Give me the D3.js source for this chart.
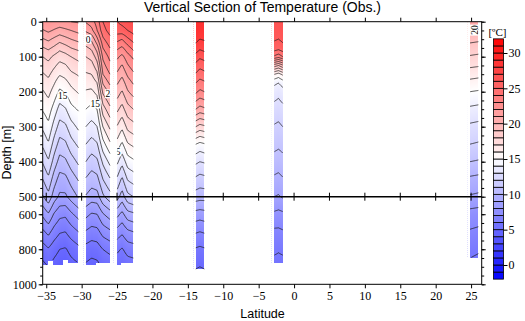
<!DOCTYPE html>
<html>
<head>
<meta charset="utf-8">
<script src="https://cdn.jsdelivr.net/npm/d3@7"></script>
<style>
body { margin: 0; background: #fff; }
svg { display: block; }
.serif { font-family: "Liberation Serif", "Times New Roman", Times, serif; }
</style>
</head>
<body>
<div id="chart"></div>
<script>
'use strict';

// depth levels [m] used by every station profile
const depths = [0, 25, 50, 75, 100, 125, 150, 175, 200, 250, 300, 350, 400, 450, 500, 600, 700, 800, 900];

// band 1, 35.5S - 30.5S
const lats1 = [-35.5, -34.7, -33.9, -33.1, -32.3, -31.5, -30.45];
const temps1 = [
    [21.8, 20.9, 19.9, 18.9, 18.0, 17.4, 16.9, 16.4, 15.9, 15.1, 14.2, 13.2, 12.1, 11.0, 9.9, 8.2, 6.8, 5.5, 4.7],
    [22.0, 21.2, 20.2, 19.2, 18.3, 17.7, 17.2, 16.7, 16.3, 15.5, 14.8, 13.9, 12.9, 11.8, 10.7, 8.9, 7.3, 5.9, 5.0],
    [21.8, 20.9, 19.8, 18.8, 17.8, 17.2, 16.6, 16.1, 15.6, 14.6, 13.6, 12.6, 11.6, 10.5, 9.5, 7.9, 6.6, 5.4, 4.6],
    [21.7, 20.6, 19.4, 18.3, 17.4, 16.7, 16.1, 15.4, 14.8, 13.6, 12.6, 11.6, 10.6, 9.6, 8.8, 7.3, 6.1, 5.0, 4.3],
    [21.8, 20.8, 19.7, 18.6, 17.6, 16.9, 16.3, 15.7, 15.1, 13.9, 12.8, 11.8, 10.8, 9.7, 8.8, 7.2, 6.0, 4.9, 4.3],
    [22.0, 21.0, 20.0, 19.0, 18.0, 17.4, 16.8, 16.2, 15.7, 14.7, 13.6, 12.6, 11.5, 10.4, 9.4, 7.8, 6.5, 5.3, 4.6],
    [22.1, 21.3, 20.3, 19.3, 18.3, 17.7, 17.1, 16.6, 16.1, 15.1, 14.2, 13.2, 12.2, 11.1, 10.1, 8.4, 7.0, 5.7, 4.8]
];
const bottom1 = [890, 867, 890, 890, 861, 877, 877];

// band 2, 29.4S - 26S (front)
const lats2 = [-29.4, -28.6, -27.8, -27.0, -26.0];
const temps2 = [
    [22.1, 21.2, 19.8, 18.8, 18.0, 17.4, 16.9, 16.4, 15.9, 15.0, 14.0, 13.0, 12.0, 10.9, 9.9, 8.3, 6.9, 5.6, 4.8],
    [22.5, 21.7, 20.2, 19.2, 18.3, 17.6, 17.0, 16.4, 15.8, 14.7, 13.6, 12.6, 11.5, 10.5, 9.5, 7.9, 6.6, 5.4, 4.6],
    [23.5, 23.0, 21.8, 20.5, 19.5, 18.6, 17.8, 17.0, 16.3, 15.0, 14.0, 12.9, 11.8, 10.7, 9.6, 8.0, 6.7, 5.5, 4.7],
    [25.0, 24.6, 23.8, 23.0, 22.2, 21.6, 21.0, 20.1, 19.2, 17.5, 16.0, 14.6, 13.2, 12.0, 10.8, 8.9, 7.4, 6.0, 5.1],
    [25.8, 25.4, 24.7, 24.0, 23.3, 22.7, 22.0, 21.2, 20.3, 18.7, 17.2, 15.8, 14.3, 12.9, 11.6, 9.5, 7.8, 6.3, 5.3]
];
const bottom2 = [890, 890, 880, 880, 880];

// band 3, 25S - 22.7S
const lats3 = [-24.96, -24.3, -23.5, -22.7];
const temps3 = [
    [26.0, 25.5, 24.3, 23.2, 22.2, 21.5, 20.8, 20.1, 19.5, 18.2, 16.9, 15.6, 14.2, 12.8, 11.4, 9.3, 7.6, 6.2, 5.3],
    [26.3, 25.6, 24.0, 22.8, 21.7, 20.9, 20.2, 19.5, 18.9, 17.6, 16.2, 14.8, 13.3, 11.8, 10.5, 8.7, 7.2, 5.9, 5.1],
    [26.6, 26.0, 24.8, 23.6, 22.6, 21.9, 21.2, 20.5, 19.9, 18.6, 17.3, 15.9, 14.5, 13.1, 11.7, 9.6, 7.8, 6.4, 5.4],
    [26.9, 26.4, 25.4, 24.3, 23.2, 22.5, 21.8, 21.1, 20.4, 19.0, 17.6, 16.2, 14.8, 13.4, 12.0, 9.8, 8.0, 6.5, 5.5]
];
const bottom3 = [890, 877, 877, 877];

// band 4, around 13S
const lats4 = [-13.88, -13.3, -12.67];
const temps4 = [
    [28.8, 28.7, 28.3, 27.6, 26.6, 25.7, 24.9, 24.0, 23.2, 21.0, 18.0, 15.0, 13.2, 11.8, 10.5, 8.6, 7.1, 5.9, 5.1],
    [28.7, 28.5, 28.0, 27.2, 26.2, 25.3, 24.5, 23.6, 22.8, 20.6, 17.6, 14.7, 13.0, 11.6, 10.4, 8.5, 7.0, 5.8, 5.0],
    [28.6, 28.5, 28.1, 27.4, 26.4, 25.5, 24.7, 23.8, 23.0, 20.8, 17.8, 14.9, 13.1, 11.7, 10.4, 8.6, 7.1, 5.9, 5.1]
];
const bottom4 = [913, 913, 913];

// band 5, around 2S
const lats5 = [-2.78, -2.2, -1.6];
const temps5 = [
    [26.4, 26.3, 26.1, 25.6, 23.8, 19.5, 16.0, 14.2, 13.5, 12.6, 11.9, 11.3, 10.6, 9.8, 9.0, 7.8, 6.8, 6.2, 5.6],
    [26.4, 26.3, 26.0, 25.4, 23.4, 19.0, 15.6, 14.0, 13.3, 12.5, 11.8, 11.2, 10.5, 9.7, 8.9, 7.7, 6.8, 6.1, 5.6],
    [26.5, 26.4, 26.2, 25.7, 24.0, 19.8, 16.2, 14.4, 13.6, 12.7, 12.0, 11.3, 10.7, 9.9, 9.1, 7.8, 6.9, 6.2, 5.6]
];
const bottom5 = [880, 880, 880];

// band 6, around 25N
const lats6 = [24.86, 26.03];
const temps6 = [
    [21.0, 20.0, 19.3, 18.6, 17.9, 17.2, 16.4, 15.7, 15.0, 13.8, 12.8, 12.0, 11.0, 9.8, 8.9, 7.6, 6.9, 6.2, 5.8],
    [20.8, 19.9, 19.2, 18.5, 17.8, 17.1, 16.3, 15.6, 14.9, 13.7, 12.7, 11.9, 10.9, 9.7, 8.8, 7.5, 6.8, 6.1, 5.7]
];
const bottom6 = [852, 852];

// single stations drawn as faint dotted columns
const dotLats = [-29.8, -25.56, -14.27, -3.25, 24.44];

// contour labels
const labelLats = [-32.66, -29.41, -28.07, -25.95, -25.17, 25.44];
const labelDepths = [212, 50, 235, 206, 372, 24];
const labelTexts = ['15', '20', '15', '20', '15', '20'];

// colour bar and axis ticks
const cbLevels = d3.range(-2, 32);
const cbTicks = [0, 5, 10, 15, 20, 25, 30];
const latTicks = d3.range(-35, 26, 5);
const depthTicks = [0, 100, 200, 300, 400, 500, 600, 800, 1000];
const depthMinor = d3.range(0, 500, 25).concat(d3.range(500, 1001, 50));

const bands = [
    {lats: lats1, temps: temps1, bottom: bottom1},
    {lats: lats2, temps: temps2, bottom: bottom2},
    {lats: lats3, temps: temps3, bottom: bottom3},
    {lats: lats4, temps: temps4, bottom: bottom4},
    {lats: lats5, temps: temps5, bottom: bottom5},
    {lats: lats6, temps: temps6, bottom: bottom6}
];

const W = 525, H = 321;
const x = d3.scaleLinear().domain([-35.5, 26.5]).range([42.7, 481.7]);
const y = d3.scaleLinear().domain([0, 500, 1000]).range([21.7, 196.7, 284.3]);
const color = d3.scaleLinear().domain([-2, 15, 32]).range(['#0000ff', '#ffffff', '#ff0000']).clamp(true);
const sans = '"Liberation Sans", Arial, sans-serif';
const fmt = d3.format('d');

let bottomAt = function (band, lat) {
    let L = band.lats;
    let n = band.bottom.length;
    let k = Math.floor((lat - L[0]) / (L[L.length - 1] - L[0]) * n);
    k = Math.max(0, Math.min(n - 1, k));
    return band.bottom[k];
}

// bilinear interpolation between station profiles
let tempAt = function (band, lat, dep) {
    let L = band.lats;
    if (lat < L[0] || lat > L[L.length - 1]) return NaN;
    if (dep > bottomAt(band, lat)) return NaN;
    let i = Math.max(0, Math.min(L.length - 2, d3.bisectRight(L, lat) - 1));
    let u = (lat - L[i]) / (L[i + 1] - L[i]);
    let j = Math.max(0, Math.min(depths.length - 2, d3.bisectRight(depths, dep) - 1));
    let v = (dep - depths[j]) / (depths[j + 1] - depths[j]);
    let a = band.temps[i], b = band.temps[i + 1];
    let t0 = a[j] * (1 - v) + a[j + 1] * v;
    let t1 = b[j] * (1 - v) + b[j + 1] * v;
    return t0 * (1 - u) + t1 * u;
}

const svg = d3.select('#chart').append('svg').attr('width', W).attr('height', H);

// colour fill on a canvas, then put in the svg as an image
const canvas = document.createElement('canvas');
canvas.width = W;
canvas.height = H;
const ctx = canvas.getContext('2d');
const img = ctx.createImageData(W, H);
let setPixel = function (px, py, t, fade) {
    let c = d3.rgb(color(t));
    let k = (py * W + px) * 4;
    img.data[k] = c.r * (1 - fade) + 255 * fade;
    img.data[k + 1] = c.g * (1 - fade) + 255 * fade;
    img.data[k + 2] = c.b * (1 - fade) + 255 * fade;
    img.data[k + 3] = 255;
}
for (let band of bands) {
    let x0 = Math.floor(x(band.lats[0])), x1 = Math.ceil(x(band.lats[band.lats.length - 1]));
    for (let px = x0; px <= x1; px++) {
        let lat = x.invert(px + 0.5);
        for (let py = 22; py < 285; py++) {
            let t = tempAt(band, lat, y.invert(py + 0.5));
            if (!isNaN(t)) setPixel(px, py, t, 0);
        }
    }
}
for (let lat of dotLats) {
    // nearest band edge gives the profile
    let best = null, bestLat = 0, dist = 1e9;
    for (let band of bands) {
        let L = band.lats;
        let c = Math.max(L[0], Math.min(L[L.length - 1], lat));
        if (Math.abs(c - lat) < dist) { dist = Math.abs(c - lat); best = band; bestLat = c; }
    }
    let px = Math.round(x(lat));
    let bot = y(bottomAt(best, bestLat));
    for (let py = 22; py < bot; py += 2) {
        let t = tempAt(best, bestLat, y.invert(py + 0.5));
        if (!isNaN(t)) setPixel(px, py, t, 0.75);
    }
}
ctx.putImageData(img, 0, 0);
svg.append('image').attr('x', 0).attr('y', 0).attr('width', W).attr('height', H)
    .attr('href', canvas.toDataURL());

// contour lines: marching squares on a 1px grid per band
let contourPaths = {};
for (let band of bands) {
    let L = band.lats;
    let xa = x(L[0]), xb = x(L[L.length - 1]);
    let nx = Math.max(2, Math.round(xb - xa) + 1);
    let ya = y(0), yb = y(d3.max(band.bottom));
    let ny = Math.round(yb - ya) + 1;
    let gx = d3.range(nx).map(i => xa + i * (xb - xa) / (nx - 1));
    let gy = d3.range(ny).map(j => ya + j * (yb - ya) / (ny - 1));
    let grid = gy.map(py => gx.map(px => tempAt(band, Math.min(L[L.length - 1], Math.max(L[0], x.invert(px))), y.invert(py))));
    for (let th = -2; th <= 32; th++) {
        let d = contourPaths[th] || '';
        let pt = function (i1, j1, i2, j2) {
            let va = grid[j1][i1], vb = grid[j2][i2];
            let f = (th - va) / (vb - va);
            let px = gx[i1] + (gx[i2] - gx[i1]) * f;
            let py = gy[j1] + (gy[j2] - gy[j1]) * f;
            return px.toFixed(2) + ',' + py.toFixed(2);
        }
        for (let j = 0; j < ny - 1; j++) {
            for (let i = 0; i < nx - 1; i++) {
                let v0 = grid[j][i], v1 = grid[j][i + 1], v2 = grid[j + 1][i + 1], v3 = grid[j + 1][i];
                if (isNaN(v0) || isNaN(v1) || isNaN(v2) || isNaN(v3)) continue;
                let idx = (v0 > th ? 8 : 0) | (v1 > th ? 4 : 0) | (v2 > th ? 2 : 0) | (v3 > th ? 1 : 0);
                if (idx === 0 || idx === 15) continue;
                let top = () => pt(i, j, i + 1, j);
                let right = () => pt(i + 1, j, i + 1, j + 1);
                let bottom = () => pt(i, j + 1, i + 1, j + 1);
                let left = () => pt(i, j, i, j + 1);
                switch (idx) {
                    case 1: case 14: d += 'M' + left() + 'L' + bottom(); break;
                    case 2: case 13: d += 'M' + bottom() + 'L' + right(); break;
                    case 3: case 12: d += 'M' + left() + 'L' + right(); break;
                    case 4: case 11: d += 'M' + top() + 'L' + right(); break;
                    case 6: case 9: d += 'M' + top() + 'L' + bottom(); break;
                    case 7: case 8: d += 'M' + top() + 'L' + left(); break;
                    case 5: d += 'M' + top() + 'L' + left() + 'M' + bottom() + 'L' + right(); break;
                    case 10: d += 'M' + top() + 'L' + right() + 'M' + left() + 'L' + bottom(); break;
                }
            }
        }
        contourPaths[th] = d;
    }
}
svg.append('g').selectAll('path').data(Object.keys(contourPaths)).join('path')
    .attr('d', k => contourPaths[k])
    .attr('fill', 'none')
    .attr('stroke', '#1a1a1a')
    .attr('stroke-width', 0.75);

// labels are cut by the gaps between bands
const clip = svg.append('clipPath').attr('id', 'bandclip');
for (let band of bands) {
    let L = band.lats;
    clip.append('rect').attr('x', x(L[0])).attr('y', y(0))
        .attr('width', x(L[L.length - 1]) - x(L[0])).attr('height', y(d3.max(band.bottom)) - y(0));
}
const lab = svg.append('g').attr('clip-path', 'url(#bandclip)')
    .selectAll('g').data(labelTexts).join('g')
    .attr('transform', (d, i) => 'translate(' + x(labelLats[i]) + ',' + y(labelDepths[i]) + ')' + (labelLats[i] > 20 ? ' rotate(-90)' : ''));
lab.append('rect').attr('x', -5.5).attr('y', -4.5).attr('width', 11).attr('height', 9).attr('fill', '#fff');
lab.append('text').text(d => d).attr('class', 'serif').attr('text-anchor', 'middle').attr('dy', '0.35em')
    .attr('font-size', 9.5).attr('fill', '#000');

// frame
svg.append('rect').attr('x', x.range()[0]).attr('y', y(0))
    .attr('width', x.range()[1] - x.range()[0]).attr('height', y(1000) - y(0))
    .attr('fill', 'none').attr('stroke', '#000').attr('stroke-width', 1);

// 500 m break line with crossing ticks
svg.append('line').attr('x1', x.range()[0]).attr('x2', x.range()[1]).attr('y1', y(500)).attr('y2', y(500))
    .attr('stroke', '#000').attr('stroke-width', 1.5);
svg.append('g').selectAll('line').data(latTicks).join('line')
    .attr('x1', d => x(d)).attr('x2', d => x(d)).attr('y1', y(500) - 4).attr('y2', y(500) + 4)
    .attr('stroke', '#000').attr('stroke-width', 1);

let styleAxis = function (g) {
    g.attr('font-family', null).attr('font-size', null);
    g.select('.domain').remove();
    g.selectAll('line').attr('stroke', '#000');
    g.selectAll('text').attr('class', 'serif').style('font-size', '12px').attr('fill', '#000');
}

svg.append('g').attr('transform', 'translate(0,' + y(1000) + ')')
    .call(d3.axisBottom(x).tickValues(latTicks).tickFormat(fmt).tickSize(4).tickPadding(3)).call(styleAxis);
svg.append('g').attr('transform', 'translate(0,' + y(0) + ')')
    .call(d3.axisTop(x).tickValues(latTicks).tickSize(4).tickFormat('')).call(styleAxis);
svg.append('g').attr('transform', 'translate(' + x.range()[0] + ',0)')
    .call(d3.axisLeft(y).tickValues(depthTicks).tickFormat(fmt).tickSize(4).tickPadding(2)).call(styleAxis);
svg.append('g').attr('transform', 'translate(' + x.range()[0] + ',0)')
    .call(d3.axisLeft(y).tickValues(depthMinor).tickSize(2.5).tickFormat('')).call(styleAxis);
svg.append('g').attr('transform', 'translate(' + x.range()[1] + ',0)')
    .call(d3.axisRight(y).tickValues(depthTicks).tickSize(4).tickFormat('')).call(styleAxis);
svg.append('g').attr('transform', 'translate(' + x.range()[1] + ',0)')
    .call(d3.axisRight(y).tickValues(depthMinor).tickSize(2.5).tickFormat('')).call(styleAxis);

// colour bar
const cb = d3.scaleLinear().domain([0, 30]).range([265, 53]);
svg.append('g').selectAll('rect').data(cbLevels).join('rect')
    .attr('x', 493.5).attr('width', 10)
    .attr('y', d => cb(d + 1)).attr('height', d => cb(d) - cb(d + 1))
    .attr('fill', d => color(d + 0.5))
    .attr('stroke', '#000').attr('stroke-width', 0.8);
svg.append('g').attr('transform', 'translate(503.5,0)')
    .call(d3.axisRight(cb).tickValues(cbTicks).tickFormat(fmt).tickSize(4).tickPadding(1)).call(styleAxis);
svg.append('text').text('[ºC]').attr('class', 'serif').attr('x', 497.5).attr('y', 36).attr('text-anchor', 'middle')
    .style('font-size', '11px');

// titles
svg.append('text').text('Vertical Section of Temperature (Obs.)')
    .attr('x', 262.5).attr('y', 12).attr('text-anchor', 'middle')
    .attr('font-family', sans).attr('font-size', 14);
svg.append('text').text('Latitude')
    .attr('x', 262.5).attr('y', 317.5).attr('text-anchor', 'middle')
    .attr('font-family', sans).attr('font-size', 12.5);
svg.append('text').text('Depth [m]')
    .attr('transform', 'translate(11,152.5) rotate(-90)').attr('text-anchor', 'middle')
    .attr('font-family', sans).attr('font-size', 12.5);
</script>
</body>
</html>
